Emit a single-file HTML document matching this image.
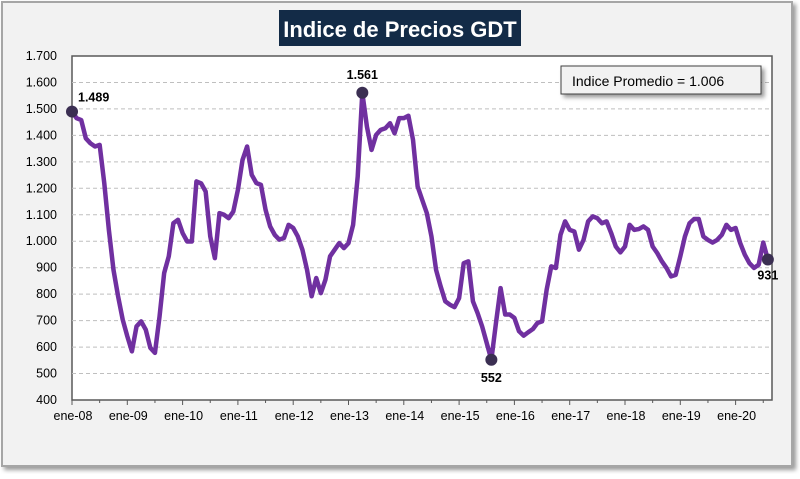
<!DOCTYPE html>
<html><head><meta charset="utf-8">
<style>
body{margin:0;width:800px;height:474px;background:#fff;font-family:"Liberation Sans",sans-serif;overflow:hidden}
</style></head>
<body>
<svg id="chart" width="800" height="474" xmlns="http://www.w3.org/2000/svg">
  <defs>
    <filter id="sh" x="-10%" y="-10%" width="130%" height="140%"><feDropShadow dx="3" dy="3" stdDeviation="2" flood-color="#000" flood-opacity="0.4"/></filter>
  </defs>
  <rect x="2" y="2" width="790" height="464" fill="#f2f2f2" stroke="#a6a6a6" stroke-width="2" filter="url(#sh)"/>
  <rect x="72" y="56" width="700" height="344" fill="#fff" stroke="#595959" stroke-width="1.5"/>
  <g id="grid"></g>
  <g id="axes"></g>
  <g id="series"></g>
  <rect x="279" y="10" width="242" height="36" fill="#132b47"/>
  <text x="400" y="37" text-anchor="middle" font-size="22" font-weight="bold" fill="#fff" font-family="Liberation Sans Narrow, Liberation Sans, sans-serif">Indice de Precios GDT</text>
  <g>
    <rect x="561" y="66" width="200" height="28" fill="#f2f2f2" stroke="#404040" stroke-width="1" filter="url(#sh)"/>
    <text x="572" y="86" font-size="14" fill="#000">Indice Promedio  =  1.006</text>
  </g>
</svg>
<script>
const yTicks=[400,500,600,700,800,900,1000,1100,1200,1300,1400,1500,1600,1700];
const yTickLabels=["400","500","600","700","800","900","1.000","1.100","1.200","1.300","1.400","1.500","1.600","1.700"];
const xYearLabels=["ene-08","ene-09","ene-10","ene-11","ene-12","ene-13","ene-14","ene-15","ene-16","ene-17","ene-18","ene-19","ene-20"];
const values=[1490,1465,1458,1389,1370,1358,1364,1220,1043,892,792,704,641,584,678,697,666,597,578,716,880,943,1068,1081,1031,999,999,1226,1219,1188,1018,936,1106,1100,1087,1112,1194,1307,1358,1251,1220,1213,1119,1056,1024,1006,1012,1062,1050,1018,968,892,792,861,804,855,943,968,993,974,993,1062,1245,1561,1433,1345,1402,1421,1427,1446,1408,1465,1465,1474,1383,1207,1156,1106,1018,892,829,773,760,751,785,917,924,773,729,678,615,552,691,823,723,723,710,660,643,656,668,691,697,817,905,899,1024,1075,1043,1037,968,1005,1075,1094,1087,1068,1075,1031,980,958,980,1062,1043,1046,1056,1043,980,955,924,899,867,873,943,1018,1068,1084,1084,1018,1005,995,1005,1024,1062,1043,1050,993,949,917,899,911,995,931];
const markers=[{i:0,label:"1.489",dx:6,dy:-10,anchor:"start"},{i:63,label:"1.561",dx:0,dy:-14,anchor:"middle"},{i:91,label:"552",dx:0,dy:22,anchor:"middle"},{i:151,label:"931",dx:0,dy:20,anchor:"middle"}];
const NS="http://www.w3.org/2000/svg";
const X0=72,MONTH=55.3/12,Y0=400,YMIN=400,YMAX=1700,H=344;
function xs(i){return X0+i*MONTH;}
function ys(v){return Y0-(v-YMIN)/(YMAX-YMIN)*H;}
function mk(t,a,p){const e=document.createElementNS(NS,t);for(const k in a)e.setAttribute(k,a[k]);p.appendChild(e);return e;}
const grid=document.getElementById('grid'),axes=document.getElementById('axes'),ser=document.getElementById('series');
yTicks.forEach((v,k)=>{
  if(v>YMIN&&v<YMAX){const g=mk('line',{x1:72,x2:772,y1:ys(v),y2:ys(v),stroke:'#bfbfbf','stroke-dasharray':'4,3'},grid);
  
  }
  const t=mk('text',{x:57,y:ys(v)+4,'text-anchor':'end','font-size':12.5,fill:'#000'},axes);
  t.textContent=yTickLabels[k];
  
  
});
for(let h=0;h<=25;h++){const x=xs(h*6);if(x>772)break;
  const tk=mk('line',{x1:x,x2:x,y1:400,y2:h%2?403:405,stroke:'#595959'},axes);
  
  }
xYearLabels.forEach((l,k)=>{const t=mk('text',{x:xs(k*12)+1,y:420,'text-anchor':'middle','font-size':12.5,fill:'#000'},axes);
  t.textContent=l;
  
  });
const line=mk('polyline',{points:values.map((v,i)=>xs(i)+','+ys(v)).join(' '),fill:'none',stroke:'#7030a0','stroke-width':4.5,'stroke-linejoin':'round'},ser);


markers.forEach(m=>{
  const c=mk('circle',{cx:xs(m.i),cy:ys(values[m.i]),r:6,fill:'#3b2f52'},ser);
  
  
  const t=mk('text',{x:xs(m.i)+m.dx,y:ys(values[m.i])+m.dy,'text-anchor':m.anchor,'font-size':12.5,'font-weight':'bold',fill:'#000'},ser);
  t.textContent=m.label;
  
  
});
</script>
</body></html>
